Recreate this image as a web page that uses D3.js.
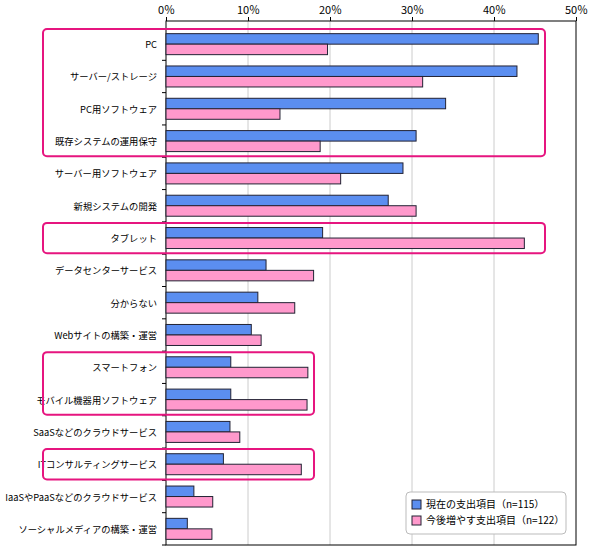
<!DOCTYPE html>
<html><head><meta charset="utf-8">
<script src="https://cdn.jsdelivr.net/npm/d3@7"></script>
<style>body{margin:0;background:#fff;font-family:"Noto Sans CJK JP",sans-serif}</style>
</head><body>
<svg id="chart" width="590" height="552"></svg>
<script>
const categories = ["PC","サーバー/ストレージ","PC用ソフトウェア","既存システムの運用保守","サーバー用ソフトウェア","新規システムの開発","タブレット","データセンターサービス","分からない","Webサイトの構築・運営","スマートフォン","モバイル機器用ソフトウェア","SaaSなどのクラウドサービス","ITコンサルティングサービス","IaaSやPaaSなどのクラウドサービス","ソーシャルメディアの構築・運営"]
const current = [45.4,42.8,34.1,30.5,28.9,27.1,19.1,12.2,11.2,10.4,7.9,7.9,7.8,7.0,3.4,2.6]
const future = [19.7,31.3,13.9,18.8,21.3,30.5,43.7,18.0,15.7,11.6,17.3,17.2,9.0,16.5,5.7,5.6]
const seriesNames = ["現在の支出項目（n=115）","今後増やす支出項目（n=122）"]
const ticks = [0,10,20,30,40,50]
const highlights = [[0,3],[6,6],[10,11],[13,13]]

const svg = d3.select("#chart")
const x = d3.scaleLinear().domain([0,50]).range([166,576])
const y = d3.scaleBand().domain(d3.range(categories.length)).range([28,545])
const colors = ["#5b8ef0","#ff99cc"]

// grid
svg.selectAll(".grid").data(ticks.slice(1,-1)).join("line")
  .attr("x1",d=>x(d)).attr("x2",d=>x(d)).attr("y1",21).attr("y2",545)
  .attr("stroke","#ccc")
svg.append("rect").attr("x",166).attr("y",21).attr("width",410).attr("height",524)
  .attr("fill","none").attr("stroke","#000")

const axis = d3.axisTop(x).tickValues(ticks).tickFormat(d=>d+"％").tickSize(4)
svg.append("g").attr("transform","translate(0,21)").call(axis)
  .call(g=>g.select(".domain").remove())
  .selectAll("text").attr("font-size",11).attr("font-family","Noto Sans CJK JP")

const bh = 10.5
categories.forEach((c,i)=>{
  const cy = y(i)+y.bandwidth()/2
  ;[current[i],future[i]].forEach((v,j)=>{
    svg.append("rect").attr("x",x(0)).attr("y",cy-bh+j*bh).attr("width",x(v)-x(0)).attr("height",bh)
      .attr("fill",colors[j]).attr("stroke","#223").attr("stroke-width",1)
  })
  svg.append("text").attr("x",157).attr("y",cy+4).attr("text-anchor","end")
    .attr("font-size",9.3).text(c)
  svg.append("line").attr("x1",162).attr("x2",166).attr("y1",y(i)+y.bandwidth()).attr("y2",y(i)+y.bandwidth()).attr("stroke","#000")
})

highlights.forEach(([a,b])=>{
  const right = a===0||a===6 ? 545 : 314
  svg.append("rect").attr("x",43).attr("y",y(a)+1).attr("width",right-43).attr("height",y(b)+y.bandwidth()-y(a)-2)
    .attr("rx",4).attr("fill","none").attr("stroke","#e6157f").attr("stroke-width",2)
})

const lg = svg.append("g").attr("transform","translate(406,492)")
lg.append("rect").attr("width",160).attr("height",42).attr("rx",4).attr("fill","#fff").attr("stroke","#bbb")
seriesNames.forEach((n,j)=>{
  lg.append("rect").attr("x",6).attr("y",8+j*16).attr("width",9).attr("height",9).attr("fill",colors[j]).attr("stroke","#223")
  lg.append("text").attr("x",20).attr("y",16+j*16).attr("font-size",10).text(n)
})
</script>
</body></html>
